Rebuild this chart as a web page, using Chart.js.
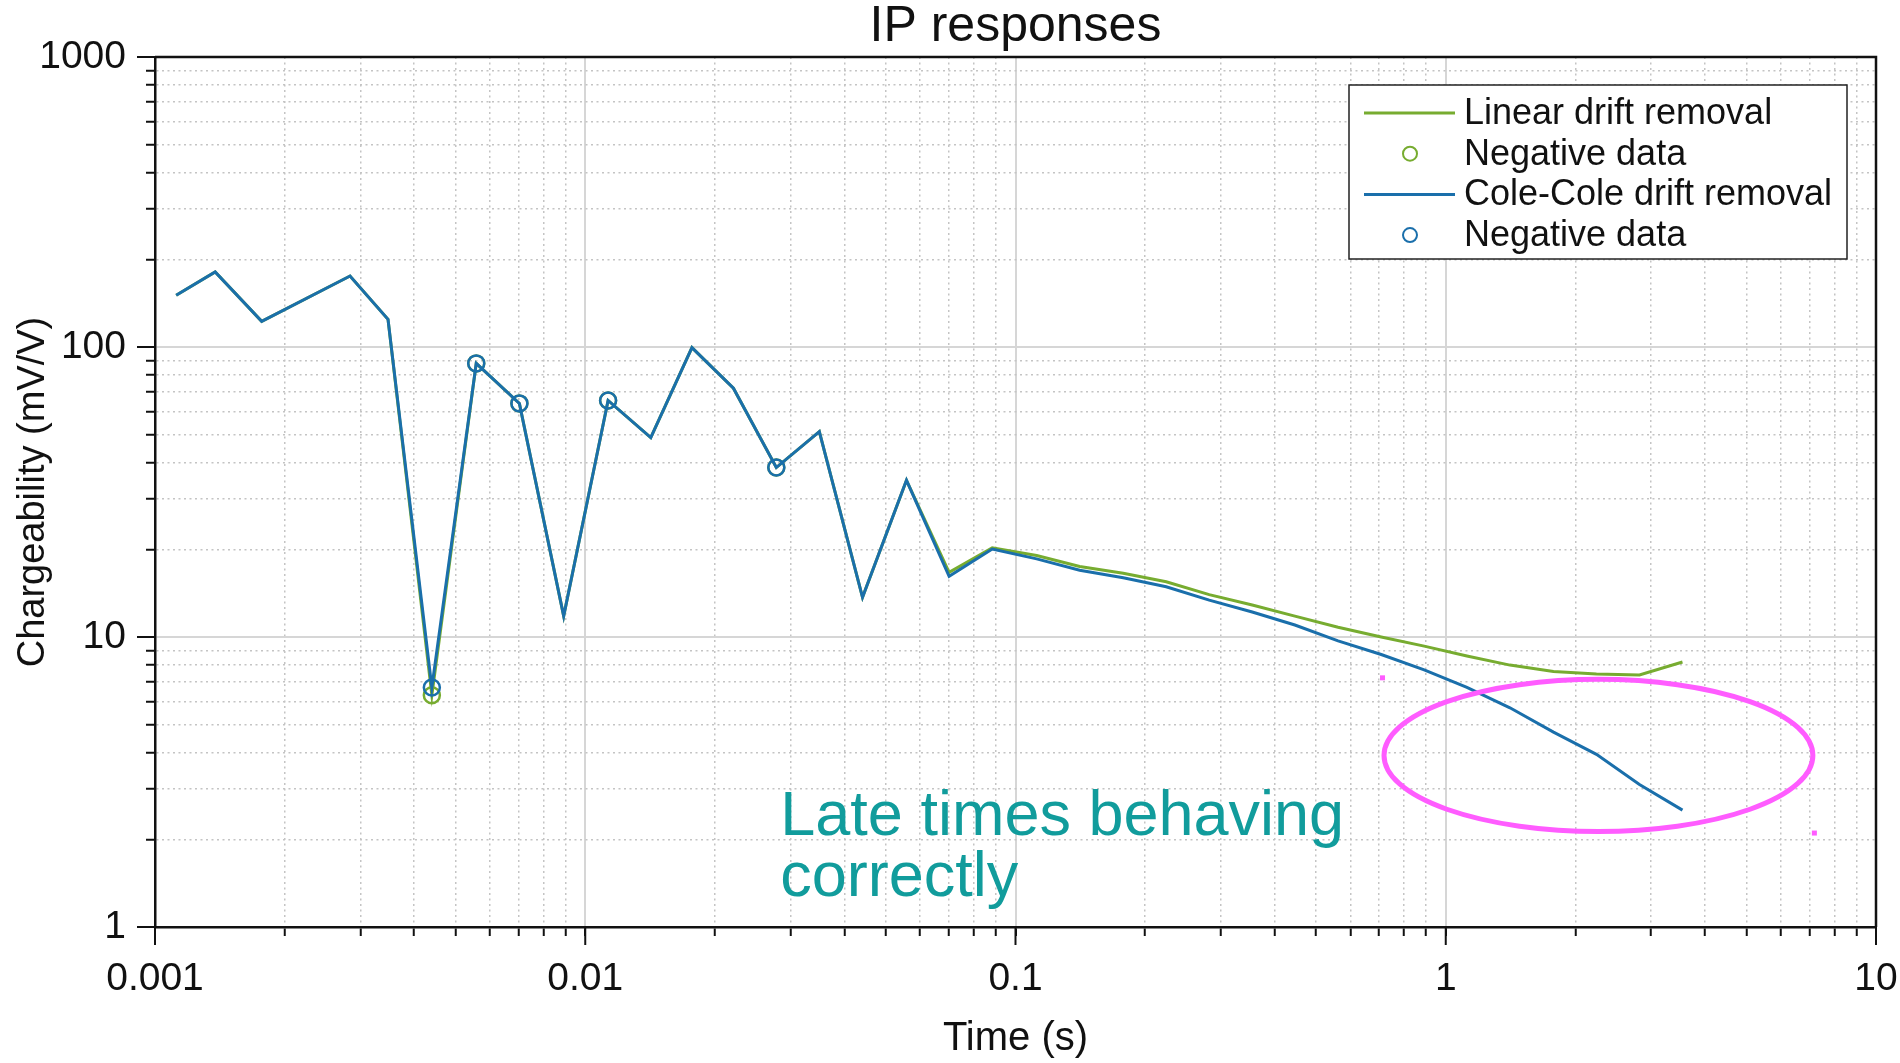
<!DOCTYPE html>
<html>
<head>
<meta charset="utf-8">
<title>IP responses</title>
<script src="https://cdn.jsdelivr.net/npm/chart.js@4.4.1/dist/chart.umd.min.js"></script>
<style>
  html, body { margin: 0; padding: 0; background: #fff; }
  canvas { display: block; }
</style>
</head>
<body>
<canvas id="ipChart" width="1900" height="1063"></canvas>
<script>
// time gates (s)
var times = [0.00112, 0.00138, 0.00177, 0.00284, 0.00348, 0.00440, 0.00558, 0.00703, 0.00891, 0.0113,
  0.0142, 0.0177, 0.0221, 0.0278, 0.0350, 0.0441, 0.0558, 0.0701, 0.0883,
  0.112, 0.141, 0.178, 0.224, 0.282, 0.355, 0.446, 0.562, 0.708, 0.891,
  1.12, 1.41, 1.78, 2.24, 2.82, 3.55];

// chargeability (mV/V)
var linearDrift = [150.8, 181.4, 122.6, 175.7, 124.6, 6.3, 87.8, 63.9, 11.8, 65.4,
  48.7, 99.5, 72.1, 38.4, 51.1, 13.7, 34.7, 16.7, 20.3,
  19.1, 17.5, 16.6, 15.5, 14.0, 12.9, 11.8, 10.8, 10.0, 9.3,
  8.6, 8.0, 7.6, 7.45, 7.4, 8.2];
var coleColeDrift = [150.8, 181.4, 122.6, 175.7, 124.6, 6.7, 87.8, 63.9, 11.8, 65.4,
  48.7, 99.5, 72.1, 38.4, 51.1, 13.7, 34.7, 16.2, 20.1,
  18.6, 17.0, 16.0, 14.9, 13.4, 12.2, 11.0, 9.7, 8.7, 7.7,
  6.7, 5.7, 4.7, 3.94, 3.1, 2.53];

// gates where the raw data was negative
var negativeIdx = [5, 6, 7, 9, 13];

var xDecades = [0.001, 0.01, 0.1, 1, 10];
var xTickLabels = ['0.001', '0.01', '0.1', '1', '10'];
var yDecades = [1, 10, 100, 1000];
var yTickLabels = ['1', '10', '100', '1000'];

var legendLabels = ['Linear drift removal', 'Negative data', 'Cole-Cole drift removal', 'Negative data'];
var noteLines = ['Late times behaving', 'correctly'];
var noteAnchor = { x: 0.0284, y: 2.07 };           // first baseline, data units
var ellipseBox = { x0: 0.711, x1: 7.21, y0: 7.26, y1: 2.10 };

var GREEN = '#77AC30';
var BLUE = '#1a6fab';
var FONT = '"Liberation Sans", Arial, Helvetica, sans-serif';

function pts(values) {
  return times.map(function (t, i) { return { x: t, y: values[i] }; });
}
function negPts(values) {
  return negativeIdx.map(function (i) { return { x: times[i], y: values[i] }; });
}
function isDecade(v) {
  var l = Math.log10(v);
  return Math.abs(l - Math.round(l)) < 1e-9;
}
function logTicks(decades) {
  var out = [];
  decades.forEach(function (d, k) {
    if (k === decades.length - 1) { out.push({ value: d, major: true }); return; }
    for (var m = 1; m <= 9; m++) out.push({ value: d * m, major: m === 1 });
  });
  return out;
}
function labelFor(v, decades, labels) {
  for (var i = 0; i < decades.length; i++) {
    if (Math.abs(Math.log10(v) - Math.log10(decades[i])) < 1e-6) return labels[i];
  }
  return '';
}

var gridOpts = {
  color: function (c) { return c.tick && isDecade(c.tick.value) ? '#d6d6d6' : '#c4c4c4'; },
  lineWidth: function (c) { return c.tick && isDecade(c.tick.value) ? 2 : 1.5; },
  drawTicks: true,
  tickLength: 9,
  tickColor: '#111',
  tickWidth: 2
};
var borderOpts = {
  color: '#111',
  width: 2.5,
  dash: function (c) { return c.tick && !isDecade(c.tick.value) ? [2, 3.5] : []; }
};

var overlay = {
  id: 'overlay',
  afterDraw: function (chart) {
    var c = chart.ctx, a = chart.chartArea, xs = chart.scales.x, ys = chart.scales.y;
    c.save();
    // top and right edges of the box
    c.strokeStyle = '#111';
    c.lineWidth = 2.5;
    c.beginPath();
    c.moveTo(a.left, a.top); c.lineTo(a.right, a.top); c.lineTo(a.right, a.bottom);
    c.stroke();
    // longer marks at the decades
    c.lineWidth = 2;
    yDecades.forEach(function (v) {
      var p = ys.getPixelForValue(v);
      c.beginPath(); c.moveTo(a.left - 18, p); c.lineTo(a.left, p); c.stroke();
    });
    xDecades.forEach(function (v) {
      var p = xs.getPixelForValue(v);
      c.beginPath(); c.moveTo(p, a.bottom); c.lineTo(p, a.bottom + 18); c.stroke();
    });

    // note text
    c.fillStyle = '#119c9c';
    c.font = '63px ' + FONT;
    c.textAlign = 'left';
    c.textBaseline = 'alphabetic';
    var nx = xs.getPixelForValue(noteAnchor.x), ny = ys.getPixelForValue(noteAnchor.y);
    noteLines.forEach(function (s, i) { c.fillText(s, nx, ny + i * 61); });

    // highlight ellipse
    var ex0 = xs.getPixelForValue(ellipseBox.x0), ex1 = xs.getPixelForValue(ellipseBox.x1);
    var ey0 = ys.getPixelForValue(ellipseBox.y0), ey1 = ys.getPixelForValue(ellipseBox.y1);
    c.strokeStyle = '#ff5cff';
    c.lineWidth = 5;
    c.beginPath();
    c.ellipse((ex0 + ex1) / 2, (ey0 + ey1) / 2, (ex1 - ex0) / 2 - 2, (ey1 - ey0) / 2 - 2, 0, 0, Math.PI * 2);
    c.stroke();
    c.fillStyle = '#ff5cff';
    c.fillRect(ex0 - 2, ey0 - 2, 5, 5);
    c.fillRect(ex1 - 3, ey1 - 3, 5, 5);

    // legend
    var bw = 498, bh = 174;
    var bx = a.right - 29 - bw, by = a.top + 28;
    c.fillStyle = '#fff';
    c.fillRect(bx, by, bw, bh);
    c.strokeStyle = '#222';
    c.lineWidth = 1.5;
    c.strokeRect(bx, by, bw, bh);
    c.font = '36px ' + FONT;
    c.textBaseline = 'middle';
    chart.data.datasets.forEach(function (ds, i) {
      var ry = by + 28 + i * 40.7;
      c.strokeStyle = ds.borderColor;
      if (ds.showLine === false) {
        c.lineWidth = 2;
        c.beginPath(); c.arc(bx + 61, ry, 7, 0, Math.PI * 2); c.stroke();
      } else {
        c.lineWidth = 3;
        c.beginPath(); c.moveTo(bx + 15, ry); c.lineTo(bx + 106, ry); c.stroke();
      }
      c.fillStyle = '#111';
      c.fillText(legendLabels[i], bx + 115, ry + 1);
    });
    c.restore();
  }
};

var ctx = document.getElementById('ipChart').getContext('2d');
var chart = new Chart(ctx, {
  type: 'line',
  data: {
    datasets: [
      {
        label: legendLabels[0],
        data: pts(linearDrift),
        borderColor: GREEN,
        borderWidth: 3,
        pointRadius: 0,
        tension: 0,
        fill: false,
        order: 3
      },
      {
        label: legendLabels[1],
        data: negPts(linearDrift),
        showLine: false,
        borderColor: GREEN,
        backgroundColor: 'rgba(0,0,0,0)',
        pointRadius: 8,
        pointBorderWidth: 2.5,
        order: 2
      },
      {
        label: legendLabels[2],
        data: pts(coleColeDrift),
        borderColor: BLUE,
        borderWidth: 3,
        pointRadius: 0,
        tension: 0,
        fill: false,
        order: 1
      },
      {
        label: legendLabels[3],
        data: negPts(coleColeDrift),
        showLine: false,
        borderColor: BLUE,
        backgroundColor: 'rgba(0,0,0,0)',
        pointRadius: 8,
        pointBorderWidth: 2.5,
        order: 0
      }
    ]
  },
  options: {
    responsive: false,
    animation: false,
    devicePixelRatio: 1,
    layout: { padding: { top: 0, right: 24, bottom: 0, left: 0 } },
    scales: {
      x: {
        type: 'logarithmic',
        min: 0.001,
        max: 10,
        afterBuildTicks: function (s) { s.ticks = logTicks(xDecades); },
        afterFit: function (s) { s.height = 136; s.paddingLeft = 20; s.paddingRight = 20; },
        grid: gridOpts,
        border: borderOpts,
        ticks: {
          autoSkip: false,
          maxRotation: 0,
          padding: 20,
          color: '#111',
          font: { family: FONT, size: 39 },
          callback: function (v) { return labelFor(v, xDecades, xTickLabels); }
        },
        title: {
          display: true,
          text: 'Time (s)',
          color: '#111',
          font: { family: FONT, size: 40 },
          padding: { top: 0, bottom: 0 }
        }
      },
      y: {
        type: 'logarithmic',
        min: 1,
        max: 1000,
        afterBuildTicks: function (s) { s.ticks = logTicks(yDecades); },
        afterFit: function (s) { s.width = 155; },
        grid: gridOpts,
        border: borderOpts,
        ticks: {
          autoSkip: false,
          padding: 20,
          color: '#111',
          font: { family: FONT, size: 39 },
          callback: function (v) { return labelFor(v, yDecades, yTickLabels); }
        },
        title: {
          display: true,
          text: 'Chargeability (mV/V)',
          color: '#111',
          font: { family: FONT, size: 38 },
          padding: { top: 11, bottom: 0 }
        }
      }
    },
    plugins: {
      legend: { display: false },
      tooltip: { enabled: false },
      title: {
        display: true,
        fullSize: false,
        text: 'IP responses',
        color: '#111',
        font: { family: FONT, size: 50, weight: 'normal', lineHeight: 1.08 },
        padding: { top: 0, bottom: 3 }
      }
    }
  },
  plugins: [overlay]
});
</script>
</body>
</html>
